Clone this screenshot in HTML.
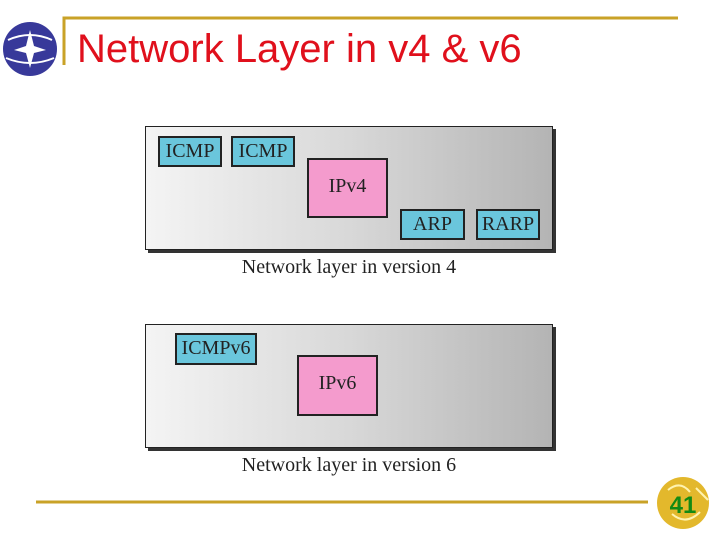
<!DOCTYPE html>
<html><head><style>
body{margin:0;width:720px;height:540px;background:#fff;position:relative;overflow:hidden;font-family:"Liberation Serif",serif}
.a{position:absolute}
.panel{position:absolute;left:145px;width:406px;height:122px;border:1px solid #222;background:linear-gradient(90deg,#f4f4f4,#d8d8d8 50%,#b4b4b4);box-shadow:3px 3px 0 #333}
.b{position:absolute;box-sizing:border-box;border:2px solid #222;background:#6ac6dc;font-size:20px;color:#222;text-align:center;line-height:27px}
.p{background:#f49bcd}
.cap{position:absolute;left:145px;width:408px;text-align:center;font-size:20px;color:#222}
</style></head><body>
<svg class="a" style="left:0;top:0" width="720" height="540">
<circle cx="30" cy="49" r="27" fill="#38399a"/>
<path d="M8 40 Q30 30 52 40 M6 58 Q30 68 54 58" stroke="#fff" stroke-width="2" fill="none"/>
<path d="M30 30 L34 46 L46 50 L34 53 L30 68 L26 53 L14 50 L26 46Z" fill="#fff"/>
<path d="M64 65 V18 H678" stroke="#c9a227" stroke-width="3" fill="none"/>
<line x1="36" y1="502" x2="648" y2="502" stroke="#c9a227" stroke-width="3"/>
<circle cx="683" cy="503" r="26" fill="#e3b82c"/>
<path d="M668 490 Q680 480 690 492 M696 488 L708 500 M672 514 Q686 526 700 512" stroke="#fff3b0" stroke-width="2" fill="none"/>
<text x="683" y="513" text-anchor="middle" font-family="Liberation Sans" font-weight="bold" font-size="24" fill="#138a13">41</text>
</svg>
<div class="a" style="left:77px;top:26px;font-family:'Liberation Sans',sans-serif;font-size:40px;color:#e0101c;line-height:46px">Network Layer in v4 &amp; v6</div>
<div class="panel" style="top:126px"></div>
<div class="b" style="left:158px;top:136px;width:64px;height:31px">ICMP</div>
<div class="b" style="left:231px;top:136px;width:64px;height:31px">ICMP</div>
<div class="b p" style="left:307px;top:158px;width:81px;height:60px;line-height:52px">IPv4</div>
<div class="b" style="left:400px;top:209px;width:65px;height:31px">ARP</div>
<div class="b" style="left:476px;top:209px;width:64px;height:31px">RARP</div>
<div class="cap" style="top:256px">Network layer in version 4</div>
<div class="panel" style="top:324px"></div>
<div class="b" style="left:175px;top:333px;width:82px;height:32px">ICMPv6</div>
<div class="b p" style="left:297px;top:355px;width:81px;height:61px;line-height:52px">IPv6</div>
<div class="cap" style="top:454px">Network layer in version 6</div>
</body></html>
